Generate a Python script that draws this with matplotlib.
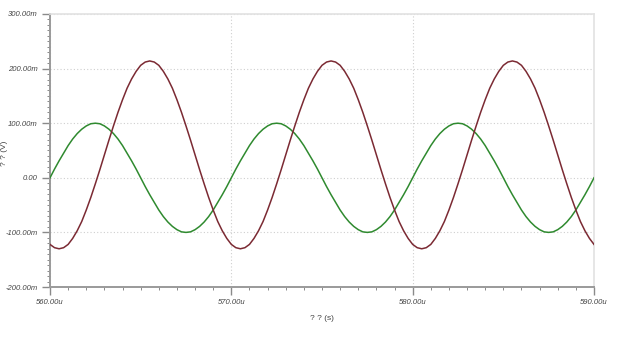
import matplotlib
matplotlib.use("Agg")
import matplotlib.pyplot as plt
from matplotlib.ticker import MultipleLocator, FuncFormatter

# time in microseconds (560 .. 590, step 0.25)
t_us = [560.0 + 0.25 * i for i in range(121)]

# green trace (mV)
green_mv = [
    0, 16, 31, 45, 59, 71, 81, 89, 95, 99, 100, 99, 95, 89, 81, 71, 59, 45, 31, 16,
    0, -16, -31, -45, -59, -71, -81, -89, -95, -99, -100, -99, -95, -89, -81, -71, -59, -45, -31, -16,
    0, 16, 31, 45, 59, 71, 81, 89, 95, 99, 100, 99, 95, 89, 81, 71, 59, 45, 31, 16,
    0, -16, -31, -45, -59, -71, -81, -89, -95, -99, -100, -99, -95, -89, -81, -71, -59, -45, -31, -16,
    0, 16, 31, 45, 59, 71, 81, 89, 95, 99, 100, 99, 95, 89, 81, 71, 59, 45, 31, 16,
    0, -16, -31, -45, -59, -71, -81, -89, -95, -99, -100, -99, -95, -89, -81, -71, -59, -45, -31, -16,
    0]

# red trace (mV)
red_mv = [
    -122, -128, -130, -128, -122, -111, -97, -80, -59, -36, -11, 15, 42, 69, 95, 120, 143, 164, 181, 195,
    206, 212, 214, 212, 206, 195, 181, 164, 143, 120, 95, 69, 42, 15, -11, -36, -59, -80, -97, -111,
    -122, -128, -130, -128, -122, -111, -97, -80, -59, -36, -11, 15, 42, 69, 95, 120, 143, 164, 181, 195,
    206, 212, 214, 212, 206, 195, 181, 164, 143, 120, 95, 69, 42, 15, -11, -36, -59, -80, -97, -111,
    -122, -128, -130, -128, -122, -111, -97, -80, -59, -36, -11, 15, 42, 69, 95, 120, 143, 164, 181, 195,
    206, 212, 214, 212, 206, 195, 181, 164, 143, 120, 95, 69, 42, 15, -11, -36, -59, -80, -97, -111,
    -122]

x_label = "? ? (s)"
y_label = "? ? (V)"

fig = plt.figure(figsize=(6.4, 3.5), dpi=100)
ax = fig.add_axes([50/640, 1 - 287/350, 544/640, 273/350])

ax.plot(t_us, green_mv, color="#2f8a2f", lw=1.1, zorder=3)
ax.plot(t_us, red_mv, color="#7b2a33", lw=1.1, zorder=3)

ax.set_xlim(560, 590)
ax.set_ylim(-200, 300)

ax.xaxis.set_major_locator(MultipleLocator(10))
ax.xaxis.set_minor_locator(MultipleLocator(1))
ax.yaxis.set_major_locator(MultipleLocator(100))
ax.yaxis.set_minor_locator(MultipleLocator(10))

ax.xaxis.set_major_formatter(FuncFormatter(lambda v, p: f"{v:.2f}u"))
ax.yaxis.set_major_formatter(FuncFormatter(lambda v, p: "0.00" if abs(v) < 1e-9 else f"{v:.2f}m"))

ax.grid(True, which="major", color="#cfcfcf", linestyle=(0, (1, 2)), lw=0.8, zorder=0)

for s in ["left", "bottom"]:
    ax.spines[s].set_color("#9a9a9a")
    ax.spines[s].set_linewidth(1.4)
for s in ["top", "right"]:
    ax.spines[s].set_color("#e2e2e2")
    ax.spines[s].set_linewidth(1.2)

ax.tick_params(which="major", direction="out", length=6, width=1, color="#8a8a8a",
               labelsize=5.5, labelcolor="#444444", pad=3)
ax.tick_params(which="minor", direction="out", length=2.5, width=0.7, color="#8a8a8a")

for lab in ax.get_xticklabels() + ax.get_yticklabels():
    lab.set_fontfamily("Liberation Sans")
    lab.set_fontstyle("italic")

ax.set_xlabel(x_label, fontsize=6, color="#444444", family="Liberation Sans", labelpad=6)
ax.set_ylabel(y_label, fontsize=6, color="#444444", family="Liberation Sans")
ax.yaxis.set_label_coords(-0.078, 0.49)

fig.savefig("out.png", dpi=100, facecolor="white")
